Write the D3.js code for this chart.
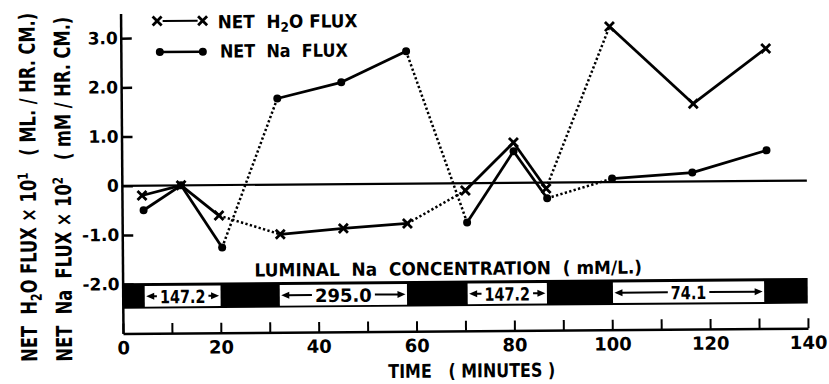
<!DOCTYPE html>
<html>
<head>
<meta charset="utf-8">
<script src="https://cdn.jsdelivr.net/npm/d3@7"></script>
<style>
  body { margin: 0; background: #fff; }
  text { font-family: "DejaVu Sans", sans-serif; font-weight: bold; fill: #000; white-space: pre; }
</style>
</head>
<body>
<svg id="chart" width="829" height="384"></svg>
<script>
// values (time in minutes, flux in axis units)
const h2oTime = [4.1, 12.1, 19.8, 32.3, 45.2, 58.3, 70.2, 80.1, 86.7, 99.9, 116.9, 131.8];
const h2oFlux = [-0.2, 0, -0.62, -1.01, -0.9, -0.81, -0.15, 0.82, -0.12, 3.16, 1.58, 2.69];
const naTime = [4.4, 12.1, 20.4, 31.9, 45.0, 58.3, 70.5, 80.1, 86.9, 100.2, 116.6, 131.8];
const naFlux = [-0.5, 0, -1.27, 1.75, 2.07, 2.69, -0.8, 0.64, -0.32, 0.07, 0.18, 0.62];
// which luminal concentration period each sample belongs to
const samplePeriod = [0, 0, 0, 1, 1, 1, 2, 2, 2, 3, 3, 3];

// luminal Na concentration periods (mM/L.)
const periodStart = [4.5, 32.1, 70.5, 100.2];
const periodEnd = [20, 58.1, 86.7, 131.1];
const periodLabel = ["147.2", "295.0", "147.2", "74.1"];

const xTicks = d3.range(0, 141, 10);
const yTicks = [3, 2, 1, 0, -1, -2];
const yTickLabels = ["3.0", "2.0", "1.0", "0", "-1.0", "-2.0"];

const svg = d3.select("#chart");
// the printed figure is scanned slightly askew
const g = svg.append("g").attr("transform", "rotate(-0.44,123,333)");

const x = d3.scaleLinear().domain([0, 140]).range([123, 808]);
const y = d3.scaleLinear().domain([-3, 3.5]).range([333.4, 13.6]);

// squeeze a text along its direction so it spans the wanted width
function fitWidth(t, base, want) {
  let w = t.node().getComputedTextLength();
  t.attr("transform", base + " scale(" + (want / w) + ",1)");
}

// concentration bar
g.append("rect")
  .attr("x", x(0)).attr("y", y(-1.98))
  .attr("width", x(140) - x(0)).attr("height", y(-2.5) - y(-1.98))
  .attr("fill", "#000");

let boxes = g.selectAll("g.period")
  .data(periodLabel.map((d, i) => ({label: d, s: periodStart[i], e: periodEnd[i]})))
  .enter().append("g").attr("class", "period");
boxes.append("rect")
  .attr("x", d => x(d.s)).attr("y", y(-2.04))
  .attr("width", d => x(d.e) - x(d.s)).attr("height", y(-2.46) - y(-2.04))
  .attr("fill", "#fff");
boxes.each(function(d) {
  let b = d3.select(this);
  let cx = (x(d.s) + x(d.e)) / 2;
  let t = b.append("text")
    .attr("x", cx).attr("y", y(-2.25) + 7)
    .attr("text-anchor", "middle")
    .style("font-size", "18px")
    .text(d.label);
  let w = t.node().getComputedTextLength();
  if (d.label.indexOf("1") >= 0) {
    w = w * 0.8;
    t.attr("textLength", w).attr("lengthAdjust", "spacingAndGlyphs");
  }
  let ay = y(-2.25);
  [[cx - w / 2 - 3, x(d.s) + 1.5], [cx + w / 2 + 3, x(d.e) - 1.5]].forEach(function(p) {
    let dir = p[1] > p[0] ? 1 : -1;
    b.append("line")
      .attr("x1", p[0]).attr("y1", ay).attr("x2", p[1] - dir * 6).attr("y2", ay)
      .attr("stroke", "#000").attr("stroke-width", 2);
    b.append("path")
      .attr("d", "M" + p[1] + "," + ay + "L" + (p[1] - dir * 8) + "," + (ay - 3.5) +
                 "L" + (p[1] - dir * 8) + "," + (ay + 3.5) + "Z")
      .attr("fill", "#000");
  });
});

// axes
let xAxis = g.append("g")
  .attr("transform", "translate(0," + y(-3) + ")")
  .call(d3.axisBottom(x).tickValues(xTicks).tickSizeInner(-10).tickSizeOuter(0).tickPadding(8)
    .tickFormat(d => d % 20 === 0 ? d : ""));
xAxis.select(".domain").attr("stroke-width", 2.5);
xAxis.selectAll(".tick line").attr("stroke-width", 2);
xAxis.selectAll(".tick text").style("font-size", "18px").style("font-family", null);

let yAxis = g.append("g")
  .attr("transform", "translate(" + x(0) + ",0)")
  .call(d3.axisLeft(y).tickValues(yTicks).tickSizeInner(-11).tickSizeOuter(0).tickPadding(3)
    .tickFormat((d, i) => yTickLabels[i]));
yAxis.select(".domain").attr("stroke-width", 2.5);
yAxis.selectAll(".tick line").attr("stroke-width", 2.5);
yAxis.selectAll(".tick text").style("font-size", "17px").style("font-family", null);
svg.selectAll(".tick text").attr("fill", null);

// zero line
g.append("line")
  .attr("x1", x(0)).attr("x2", x(140)).attr("y1", y(0)).attr("y2", y(0))
  .attr("stroke", "#000").attr("stroke-width", 2.2);

// markers
function cross(sel, cx, cy) {
  sel.append("path")
    .attr("d", "M" + (cx - 4.5) + "," + (cy - 4.5) + "L" + (cx + 4.5) + "," + (cy + 4.5) +
               "M" + (cx - 4.5) + "," + (cy + 4.5) + "L" + (cx + 4.5) + "," + (cy - 4.5))
    .attr("stroke", "#000").attr("stroke-width", 2.8).attr("fill", "none");
}
function dot(sel, cx, cy) {
  sel.append("circle").attr("cx", cx).attr("cy", cy).attr("r", 4).attr("fill", "#000");
}

function drawSeries(times, vals, marker) {
  let s = g.append("g");
  d3.pairs(d3.range(times.length)).forEach(function(p) {
    let a = p[0], b = p[1];
    let same = samplePeriod[a] === samplePeriod[b];
    s.append("line")
      .attr("x1", x(times[a])).attr("y1", y(vals[a]))
      .attr("x2", x(times[b])).attr("y2", y(vals[b]))
      .attr("stroke", "#000")
      .attr("stroke-width", same ? 2.8 : 2.5)
      .attr("stroke-dasharray", same ? null : "2.3 2.3");
  });
  times.forEach((t, i) => marker(s, x(t), y(vals[i])));
}
drawSeries(h2oTime, h2oFlux, cross);
drawSeries(naTime, naFlux, dot);

// legend
let leg = g.append("g");
leg.append("line").attr("x1", 165).attr("x2", 200).attr("y1", 21.3).attr("y2", 21.3)
  .attr("stroke", "#000").attr("stroke-width", 2);
cross(leg, 159.5, 21.3);
cross(leg, 205, 21.3);
let l1 = leg.append("text").style("font-size", "18px");
l1.append("tspan").text("NET  H");
l1.append("tspan").attr("dy", 4).style("font-size", "13px").text("2");
l1.append("tspan").attr("dy", -4).text("O FLUX");
fitWidth(l1, "translate(220,29)", 140);

leg.append("line").attr("x1", 162).attr("x2", 205).attr("y1", 52.3).attr("y2", 52.3)
  .attr("stroke", "#000").attr("stroke-width", 2.4);
dot(leg, 162, 52.3);
dot(leg, 205, 52.3);
let l2 = leg.append("text").style("font-size", "18px").text("NET  Na  FLUX");
fitWidth(l2, "translate(222,58.3)", 128);

// bar title and axis titles
let bt = g.append("text").style("font-size", "18px")
  .text("LUMINAL  Na  CONCENTRATION  ( mM/L.)");
fitWidth(bt, "translate(255,277.5)", 388);

let xt = g.append("text").style("font-size", "19px").text("TIME   ( MINUTES )");
fitWidth(xt, "translate(388,380)", 167);

let yl1 = g.append("text").style("font-size", "22px");
yl1.append("tspan").text("NET  H");
yl1.append("tspan").attr("dy", 5).style("font-size", "15px").text("2");
yl1.append("tspan").attr("dy", -5).text("O FLUX × 10");
yl1.append("tspan").attr("dy", -8).style("font-size", "14px").text("1");
yl1.append("tspan").attr("dy", 8).text("   ( ML. / HR. CM.)");
fitWidth(yl1, "translate(37,361) rotate(-90)", 349);

let yl2 = g.append("text").style("font-size", "22px");
yl2.append("tspan").text("NET  Na  FLUX × 10");
yl2.append("tspan").attr("dy", -8).style("font-size", "14px").text("2");
yl2.append("tspan").attr("dy", 8).text("   ( mM / HR. CM.)");
fitWidth(yl2, "translate(72,361) rotate(-90)", 345);
</script>
</body>
</html>
